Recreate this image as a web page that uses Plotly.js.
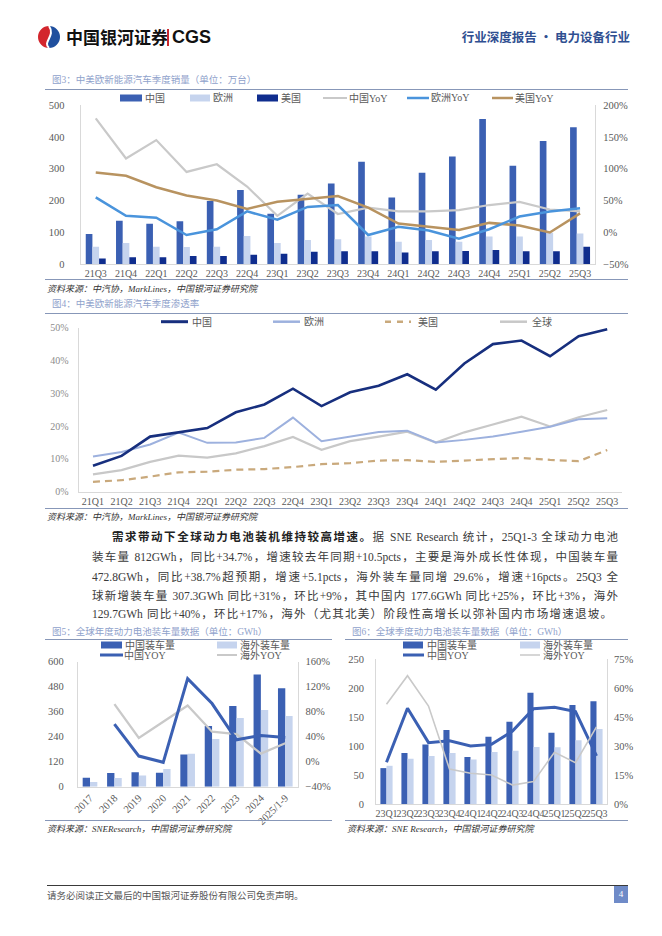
<!DOCTYPE html>
<html><head><meta charset="utf-8">
<script src="https://cdn.plot.ly/plotly-3.0.1.min.js"></script>
<style>
body{margin:0;width:662px;height:936px;position:relative;background:#fff;overflow:hidden;font-family:"Liberation Serif","Noto Sans CJK SC",serif;}
#chart{position:absolute;left:0;top:0;width:662px;height:936px;}
.abs{position:absolute;white-space:nowrap;pointer-events:none;}
.ft{font-size:9.5px;line-height:14px;height:14px;color:#8fa2cb;font-family:"Liberation Serif","Noto Sans CJK SC";}
.src{font-size:9px;line-height:14px;height:14px;color:#333;font-style:italic;}
.rule{position:absolute;height:1px;background:#8797b8;}
.pl{position:absolute;height:16px;line-height:16px;font-size:11.5px;color:#3a3a3a;text-align:justify;text-align-last:justify;font-family:"Liberation Serif","Noto Sans CJK SC";overflow:visible;}
</style></head>
<body>
<div id="chart"></div>

<!-- header -->
<div class="abs" style="left:37px;top:25px;">
<svg width="24" height="24" viewBox="0 0 24 24">
<path d="M12,1 A11,11 0 0,0 12,23 C5,17 19,11 12,1 Z" fill="#d3262d"/>
<path d="M12,1 C19,11 5,17 12,23 A11,11 0 0,0 12,1 Z" fill="#1f4f9e"/>
<path d="M12,1 C19,11 5,17 12,23" fill="none" stroke="#fff" stroke-width="2"/>
</svg></div>
<div class="abs" style="left:66px;top:26px;font-size:17px;line-height:22px;font-weight:bold;color:#111;font-family:'Noto Sans CJK SC';">中国银河证券</div>
<div class="abs" style="left:167px;top:29px;width:1.5px;height:17px;background:#c8282e;"></div>
<div class="abs" style="left:172px;top:25px;font-size:18px;line-height:24px;font-weight:bold;color:#111;font-family:'Liberation Sans';">CGS</div>
<div class="abs" style="right:32px;top:29px;font-size:12.5px;line-height:16px;font-weight:bold;color:#2f4f91;font-family:'Noto Sans CJK SC';">行业深度报告 · 电力设备行业</div>

<!-- fig3 -->
<div class="abs ft" style="left:52px;top:73px;">图3：中美欧新能源汽车季度销量（单位：万台）</div>
<div class="rule" style="left:45px;width:583px;top:89px;"></div>
<div class="rule" style="left:45px;width:583px;top:279px;"></div>
<div class="abs src" style="left:47px;top:282px;">资料来源：中汽协，MarkLines，中国银河证券研究院</div>

<!-- fig4 -->
<div class="abs ft" style="left:52px;top:297px;">图4：中美欧新能源汽车季度渗透率</div>
<div class="rule" style="left:45px;width:583px;top:313px;"></div>
<div class="rule" style="left:45px;width:583px;top:508px;"></div>
<div class="abs src" style="left:47px;top:510px;">资料来源：中汽协，MarkLines，中国银河证券研究院</div>

<!-- paragraph -->
<div class="pl" style="left:112px;width:506px;top:529px;"><b style="color:#222;">需求带动下全球动力电池装机维持较高增速。</b>据 SNE Research 统计，25Q1-3 全球动力电池</div>
<div class="pl" style="left:92px;width:526px;top:549px;">装车量 812GWh，同比+34.7%，增速较去年同期+10.5pcts，主要是海外成长性体现，中国装车量</div>
<div class="pl" style="left:92px;width:526px;top:569px;">472.8GWh，同比+38.7%超预期，增速+5.1pcts，海外装车量同增 29.6%，增速+16pcts。25Q3 全</div>
<div class="pl" style="left:92px;width:526px;top:588px;">球新增装车量 307.3GWh 同比+31%，环比+9%，其中国内 177.6GWh 同比+25%，环比+3%，海外</div>
<div class="pl" style="left:92px;width:520px;top:606px;">129.7GWh 同比+40%，环比+17%，海外（尤其北美）阶段性高增长以弥补国内市场增速退坡。</div>

<!-- fig5 / fig6 -->
<div class="abs ft" style="left:52px;top:625px;">图5：全球年度动力电池装车量数据（单位：GWh）</div>
<div class="abs ft" style="left:352px;top:625px;">图6：全球季度动力电池装车量数据（单位：GWh）</div>
<div class="rule" style="left:45px;width:287px;top:639px;"></div>
<div class="rule" style="left:345px;width:283px;top:639px;"></div>
<div class="rule" style="left:45px;width:287px;top:820px;"></div>
<div class="rule" style="left:345px;width:283px;top:820px;"></div>
<div class="abs src" style="left:47px;top:822px;">资料来源：SNEResearch，中国银河证券研究院</div>
<div class="abs src" style="left:347px;top:822px;">资料来源：SNE Research，中国银河证券研究院</div>

<!-- footer -->
<div class="abs" style="left:47px;top:885px;width:581px;height:1px;background:#3a3a3a;"></div>
<div class="abs" style="left:47px;top:889px;font-size:9.5px;line-height:14px;color:#555;">请务必阅读正文最后的中国银河证券股份有限公司免责声明。</div>
<div class="abs" style="left:614px;top:886px;width:14px;height:17px;background:#6f8bc8;color:#fff;font-size:9px;line-height:17px;text-align:center;">4</div>

<script>
const W = 662, H = 936;

// ---- Fig3 data: quarterly NEV sales (万台) and YoY (%) ----
const quartersSales = ['21Q3','21Q4','22Q1','22Q2','22Q3','22Q4','23Q1','23Q2','23Q3','23Q4','24Q1','24Q2','24Q3','24Q4','25Q1','25Q2','25Q3'];
const salesChina  = [95,137,127,135,199,233,159,218,254,322,210,287,338,456,309,387,430];
const salesEurope = [55,67,55,54,55,89,67,76,79,87,71,76,71,87,87,99,97];
const salesUS     = [18,22,22,26,26,30,33,39,41,41,37,41,42,45,41,41,55];
const yoyChina    = [179,116,145,95,107,72,26,61,29,39,33,33,35,43,48,36,33];
const yoyEurope   = [55,26,23,-4,5,33,20,40,43,-4,9,3,-10,5,25,33,38];
const yoyUS       = [94,89,71,58,50,37,48,52,57,39,14,9,4,15,11,0,30];

// ---- Fig4 data: penetration (%) ----
const quartersPen = ['21Q1','21Q2','21Q3','21Q4','22Q1','22Q2','22Q3','22Q4','23Q1','23Q2','23Q3','23Q4','24Q1','24Q2','24Q3','24Q4','25Q1','25Q2','25Q3'];
const penChina  = [7.9,10.9,16.8,18.0,19.4,24.2,26.6,31.4,26.1,30.3,32.3,35.8,31.1,39.1,45.0,46.1,41.3,47.4,49.5];
const penEurope = [10.7,12.1,14.4,18.0,14.9,15.0,16.4,22.6,15.4,16.8,18.2,18.6,15.0,15.8,16.8,18.3,19.8,22.1,22.4];
const penUS     = [3.0,3.5,4.6,5.9,6.1,6.7,6.9,7.5,8.4,8.7,9.5,9.6,9.1,9.5,10.1,10.3,9.7,9.3,12.7];
const penGlobal = [5.3,6.6,9.1,11.0,10.4,11.7,13.9,16.7,12.8,15.4,16.8,18.3,15.0,18.1,20.5,22.9,19.9,22.7,24.9];

// ---- Fig5 data: annual battery installations (GWh) ----
const years = ['2017','2018','2019','2020','2021','2022','2023','2024','2025/1-9'];
const annChina    = [43,66,69,67,154,291,387,538,472.8];
const annOverseas = [22,42,54,85,158,229,330,368,339.2];
const annYoyChina    = [null,60,9,-1,133,93,35,42,38.7];
const annYoyOverseas = [null,92,38,64,90,48,44,13,29.6];

// ---- Fig6 data: quarterly battery installations (GWh) ----
const quartersBat = ['23Q1','23Q2','23Q3','23Q4','24Q1','24Q2','24Q3','24Q4','25Q1','25Q2','25Q3'];
const qChina    = [62,88,103,128,81,116,142,192,123,171,177.6];
const qOverseas = [66,78,83,88,77,90,92,98.5,98,110,129.7];
const qYoyChina    = [21.6,49.6,31.8,32.8,30.1,30.9,37.8,49.4,50.1,47.9,25];
const qYoyOverseas = [51.7,66.5,50.8,18.1,15.9,15.0,9.8,11.6,26.8,21.4,40];

// colours
const cBlue = '#3b60b3', cLight = '#c6d4ee', cNavy = '#0f2d8e';
const cGray = '#c9c9c9', cSky = '#4a94dc', cGold = '#b89360';
const cPenChina = '#172f7e', cPenEur = '#9db1de', cPenUS = '#c9a97c', cPenGlob = '#c8c8c8';

const FONT = '"Liberation Serif","Noto Sans CJK SC",serif';
const tickFont = {family: FONT, size: 10.5, color: '#595959'};
const legFont = {family: FONT, size: 10, color: '#595959'};

const px = v => v / W;
const py = v => 1 - v / H;
const dx = (a, b) => [px(a), px(b)];
const dy = (top, bottom) => [py(bottom), py(top)];

function xcat(domain, anchor, cats, extra) {
  return Object.assign({domain, anchor, type: 'category', range: [-0.5, cats.length - 0.5],
    tickmode: 'array', tickvals: cats, ticktext: cats, tickangle: 0,
    showline: true, linecolor: '#d9d9d9', linewidth: 1, ticks: '', showgrid: false, zeroline: false,
    tickfont: tickFont, fixedrange: true}, extra || {});
}
function yax(opts) {
  return Object.assign({showline: true, linecolor: '#d9d9d9', linewidth: 1, ticks: '', showgrid: false,
    zeroline: false, tickfont: tickFont, fixedrange: true}, opts);
}

const traces = [
  // Fig3 bars
  {type: 'bar', x: quartersSales, y: salesChina, xaxis: 'x', yaxis: 'y', marker: {color: cBlue}, width: 0.22, offset: -0.33, name: '中国'},
  {type: 'bar', x: quartersSales, y: salesEurope, xaxis: 'x', yaxis: 'y', marker: {color: cLight}, width: 0.22, offset: -0.11, name: '欧洲'},
  {type: 'bar', x: quartersSales, y: salesUS, xaxis: 'x', yaxis: 'y', marker: {color: cNavy}, width: 0.22, offset: 0.11, name: '美国'},
  // Fig3 lines
  {type: 'scatter', mode: 'lines', x: quartersSales, y: yoyChina, xaxis: 'x', yaxis: 'y2', line: {color: cGray, width: 2.2}, name: '中国YoY'},
  {type: 'scatter', mode: 'lines', x: quartersSales, y: yoyUS, xaxis: 'x', yaxis: 'y2', line: {color: cGold, width: 2.5}, name: '美国YoY'},
  {type: 'scatter', mode: 'lines', x: quartersSales, y: yoyEurope, xaxis: 'x', yaxis: 'y2', line: {color: cSky, width: 2.5}, name: '欧洲YoY'},
  // Fig4
  {type: 'scatter', mode: 'lines', x: quartersPen, y: penGlobal, xaxis: 'x2', yaxis: 'y3', line: {color: cPenGlob, width: 2.2}, name: '全球'},
  {type: 'scatter', mode: 'lines', x: quartersPen, y: penUS, xaxis: 'x2', yaxis: 'y3', line: {color: cPenUS, width: 2.2, dash: '7px,5px'}, name: '美国'},
  {type: 'scatter', mode: 'lines', x: quartersPen, y: penEurope, xaxis: 'x2', yaxis: 'y3', line: {color: cPenEur, width: 2}, name: '欧洲'},
  {type: 'scatter', mode: 'lines', x: quartersPen, y: penChina, xaxis: 'x2', yaxis: 'y3', line: {color: cPenChina, width: 2.6}, name: '中国'},
  // Fig5
  {type: 'bar', x: years, y: annChina, xaxis: 'x3', yaxis: 'y4', marker: {color: cBlue}, width: 0.3, offset: -0.3, name: '中国装车量'},
  {type: 'bar', x: years, y: annOverseas, xaxis: 'x3', yaxis: 'y4', marker: {color: cLight}, width: 0.3, offset: 0, name: '海外装车量'},
  {type: 'scatter', mode: 'lines', x: years, y: annYoyOverseas, xaxis: 'x3', yaxis: 'y5', line: {color: cGray, width: 2.3}, name: '海外YOY'},
  {type: 'scatter', mode: 'lines', x: years, y: annYoyChina, xaxis: 'x3', yaxis: 'y5', line: {color: cBlue, width: 3}, name: '中国YOY'},
  // Fig6
  {type: 'bar', x: quartersBat, y: qChina, xaxis: 'x4', yaxis: 'y6', marker: {color: cBlue}, width: 0.29, offset: -0.29, name: '中国装车量'},
  {type: 'bar', x: quartersBat, y: qOverseas, xaxis: 'x4', yaxis: 'y6', marker: {color: cLight}, width: 0.29, offset: 0, name: '海外装车量'},
  {type: 'scatter', mode: 'lines', x: quartersBat, y: qYoyChina, xaxis: 'x4', yaxis: 'y7', line: {color: cBlue, width: 3}, name: '中国YOY'},
  {type: 'scatter', mode: 'lines', x: quartersBat, y: qYoyOverseas, xaxis: 'x4', yaxis: 'y7', line: {color: cGray, width: 1.6}, name: '海外YOY'}
];

// custom legend entries (layout decoration)
const shapes = [], annotations = [];
function legRect(x0, x1, yc, color, text, tx) {
  shapes.push({type: 'rect', xref: 'paper', yref: 'paper', x0: px(x0), x1: px(x1), y0: py(yc + 3.5), y1: py(yc - 3.5), fillcolor: color, line: {width: 0}});
  annotations.push({xref: 'paper', yref: 'paper', x: px(tx), y: py(yc), xanchor: 'left', yanchor: 'middle', text, showarrow: false, font: legFont, borderpad: 0});
}
function legLine(x0, x1, yc, color, w, text, tx, dash) {
  shapes.push({type: 'line', xref: 'paper', yref: 'paper', x0: px(x0), x1: px(x1), y0: py(yc), y1: py(yc), line: {color, width: w, dash: dash || 'solid'}});
  annotations.push({xref: 'paper', yref: 'paper', x: px(tx), y: py(yc), xanchor: 'left', yanchor: 'middle', text, showarrow: false, font: legFont, borderpad: 0});
}
// fig3 legend
legRect(120, 142, 98, cBlue, '中国', 144);
legRect(190, 210, 98, cLight, '欧洲', 212);
legRect(257, 278, 98, cNavy, '美国', 280);
legLine(323, 347, 98, cGray, 2, '中国YoY', 348);
legLine(407, 429, 98, cSky, 2.5, '欧洲YoY', 430);
legLine(492, 513, 98, cGold, 2.5, '美国YoY', 514);
// fig4 legend
legLine(161, 188, 321.7, cPenChina, 3, '中国', 191);
legLine(273, 300, 321.7, cPenEur, 2.5, '欧洲', 303);
legLine(385, 411, 321.7, cPenUS, 2.5, '美国', 417, '6px,6px');
legLine(500, 527, 321.7, cPenGlob, 2.5, '全球', 531);
// fig5 legend
legRect(101, 122, 645, cBlue, '中国装车量', 124);
legRect(217, 237, 645, cLight, '海外装车量', 239);
legLine(100, 123, 655, cBlue, 3, '中国YOY', 123);
legLine(217, 237, 655, cGray, 2, '海外YOY', 239);
// fig6 legend
legRect(403, 423, 645, cBlue, '中国装车量', 426);
legRect(520, 540, 645, cLight, '海外装车量', 542);
legLine(403, 424, 655, cBlue, 3, '中国YOY', 426);
legLine(520, 540, 655, cGray, 1.5, '海外YOY', 542);

const layout = {
  width: W, height: H, margin: {l: 0, r: 0, t: 0, b: 0},
  paper_bgcolor: 'rgba(0,0,0,0)', plot_bgcolor: 'rgba(0,0,0,0)',
  showlegend: false, barmode: 'overlay', font: {family: FONT},
  // fig3
  xaxis: xcat(dx(80.6, 595.2), 'y', quartersSales, {tickfont: {family: FONT, size: 10, color: '#595959'}}),
  yaxis: yax({domain: dy(105, 264.3), anchor: 'x', range: [0, 500], dtick: 100, ticklabelstandoff: 13}),
  yaxis2: yax({overlaying: 'y', side: 'right', anchor: 'x', range: [-50, 200], dtick: 50, ticksuffix: '%', ticklabelstandoff: 5}),
  // fig4
  xaxis2: xcat(dx(78.7, 621.5), 'y3', quartersPen, {tickfont: {family: FONT, size: 10, color: '#595959'}}),
  yaxis3: yax({domain: dy(327.7, 491.7), anchor: 'x2', range: [0, 50], dtick: 10, ticksuffix: '%', ticklabelstandoff: 7, tickfont: {family: FONT, size: 10, color: '#8c8c8c'}}),
  // fig5
  xaxis3: xcat(dx(77.8, 297.5), 'y4', years, {tickangle: -45}),
  yaxis4: yax({domain: dy(661.7, 786.7), anchor: 'x3', range: [0, 600], dtick: 120, ticklabelstandoff: 11}),
  yaxis5: yax({overlaying: 'y4', side: 'right', anchor: 'x3', range: [-40, 160], dtick: 40, ticksuffix: '%', ticklabelstandoff: 5}),
  // fig6
  xaxis4: xcat(dx(376, 607), 'y6', quartersBat, {tickfont: {family: FONT, size: 10, color: '#595959'}}),
  yaxis6: yax({domain: dy(659.3, 804), anchor: 'x4', range: [0, 250], dtick: 50, ticklabelstandoff: 9}),
  yaxis7: yax({overlaying: 'y6', side: 'right', anchor: 'x4', range: [0, 75], dtick: 15, ticksuffix: '%', ticklabelstandoff: 4}),
  shapes, annotations
};

Plotly.newPlot('chart', traces, layout, {staticPlot: true, displayModeBar: false});
</script>
</body></html>
